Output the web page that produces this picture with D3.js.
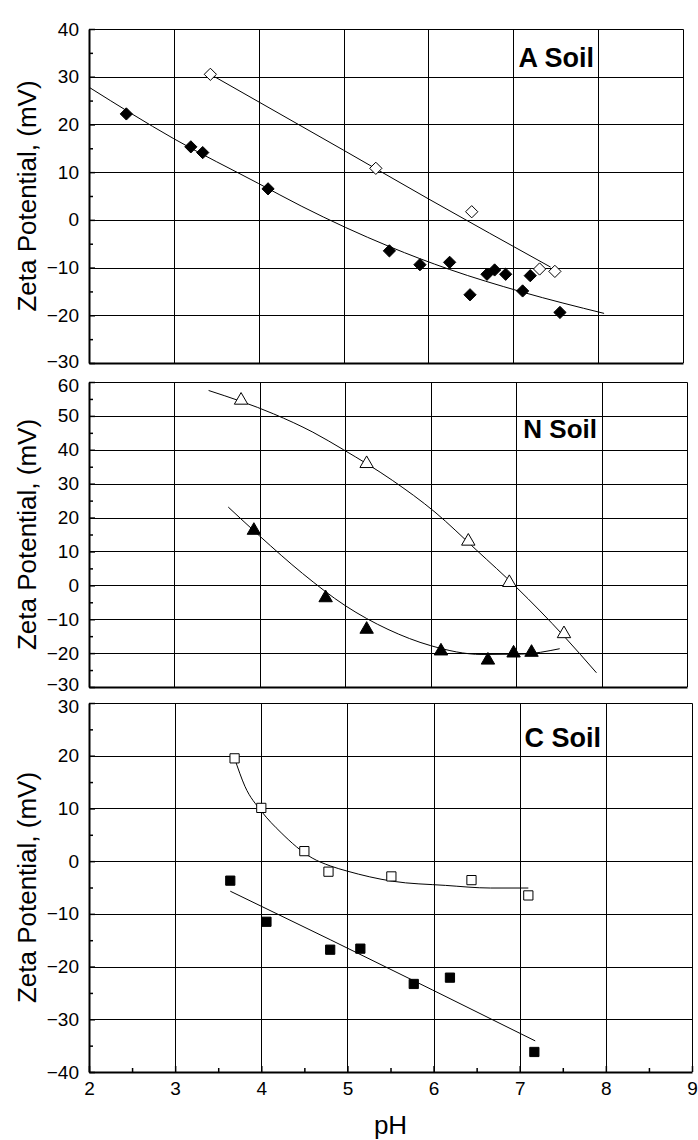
<!DOCTYPE html>
<html><head><meta charset="utf-8">
<script src="https://cdn.jsdelivr.net/npm/d3@7"></script>
<style>body{margin:0;background:#fff}svg{display:block}</style>
</head><body>
<svg id="c" width="698" height="1140"></svg>
<script>
// ---------- data ----------
const phTicks = [2, 3, 4, 5, 6, 7, 8, 9];
const phMinor = [2.5, 3.5, 4.5, 5.5, 6.5, 7.5, 8.5];

// A Soil
const aTicks = [-30, -20, -10, 0, 10, 20, 30, 40];
const aFilledPH   = [2.44, 3.20, 3.34, 4.11, 5.54, 5.90, 6.25, 6.49, 6.69, 6.78, 6.91, 7.11, 7.20, 7.55];
const aFilledZeta = [22.2, 15.3, 14.1, 6.5, -6.5, -9.4, -8.9, -15.7, -11.4, -10.5, -11.4, -14.9, -11.7, -19.4];
const aOpenPH     = [3.43, 5.38, 6.51, 7.31, 7.49];
const aOpenZeta   = [30.5, 10.8, 1.7, -10.3, -10.8];
const aFitFilledPH   = [2.0, 3.0, 4.0, 4.5, 5.54, 6.25, 7.1, 8.07];
const aFitFilledZeta = [27.8, 17.0, 7.6, 2.9, -5.6, -10.4, -15.1, -19.6];
const aFitOpenPH   = [3.43, 5.0, 6.0, 7.44];
const aFitOpenZeta = [30.5, 14.6, 4.4, -9.9];

// N Soil
const nTicks = [-30, -20, -10, 0, 10, 20, 30, 40, 50, 60];
const nOpenPH     = [3.78, 5.25, 6.44, 6.92, 7.56];
const nOpenZeta   = [54.6, 35.9, 13.0, 0.8, -14.3];
const nFilledPH   = [3.93, 4.77, 5.25, 6.12, 6.67, 6.97, 7.18];
const nFilledZeta = [16.2, -3.7, -13.0, -19.4, -22.1, -20.0, -19.8];
const nFitOpenPH   = [3.40, 4.16, 4.62, 4.98, 5.55, 6.05, 6.54, 7.00, 7.56, 7.94];
const nFitOpenZeta = [57.5, 50.6, 45.2, 40.0, 31.0, 21.6, 10.3, -0.5, -15.0, -25.8];
const nFitFilledPH   = [3.63, 4.0, 4.5, 5.0, 5.5, 6.0, 6.6, 7.06, 7.51];
const nFitFilledZeta = [23.1, 14.5, 3.5, -6.0, -13.0, -17.8, -20.4, -20.3, -18.7];

// C Soil
const cTicks = [-40, -30, -20, -10, 0, 10, 20, 30];
const cOpenPH     = [3.69, 4.00, 4.50, 4.78, 5.51, 6.44, 7.10];
const cOpenZeta   = [19.5, 10.1, 1.9, -2.0, -2.9, -3.6, -6.5];
const cFilledPH   = [3.64, 4.06, 4.80, 5.15, 5.77, 6.19, 7.17];
const cFilledZeta = [-3.7, -11.5, -16.8, -16.6, -23.3, -22.1, -36.2];
const cFitOpenPH   = [3.69, 3.81, 4.00, 4.23, 4.59, 4.80, 5.00, 5.52, 6.14, 6.66, 7.10];
const cFitOpenZeta = [19.5, 14.2, 9.5, 5.4, 0.6, -0.9, -1.9, -3.8, -4.6, -5.1, -5.1];
const cFitFilledPH   = [3.64, 4.80, 7.18];
const cFitFilledZeta = [-5.7, -14.9, -34.1];

// ---------- drawing ----------
const svg = d3.select('#c');
const FONT = '"Liberation Sans", Arial, sans-serif';

const zip = (xs, ys) => xs.map((v, i) => [v, ys[i]]);

const diamond = { draw(ctx, size) { const r = Math.sqrt(size) / 2; ctx.moveTo(0, -r); ctx.lineTo(r, 0); ctx.lineTo(0, r); ctx.lineTo(-r, 0); ctx.closePath(); } };

function panel(cfg) {
  const x = d3.scaleLinear().domain([2, 9]).range([cfg.left, cfg.right]);
  const y = d3.scaleLinear().domain([cfg.yTicks[0], cfg.yTicks[cfg.yTicks.length - 1]]).range([cfg.bottom, cfg.top]);
  const g = svg.append('g');

  // gridlines
  g.append('g').selectAll('line').data(phTicks.slice(1, -1)).join('line')
    .attr('x1', d => Math.round(x(d)) + 0.5).attr('x2', d => Math.round(x(d)) + 0.5)
    .attr('y1', cfg.top).attr('y2', cfg.bottom)
    .attr('stroke', '#000').attr('stroke-width', 1);
  g.append('g').selectAll('line').data(cfg.yTicks.slice(1, -1)).join('line')
    .attr('y1', d => Math.round(y(d)) + 0.5).attr('y2', d => Math.round(y(d)) + 0.5)
    .attr('x1', cfg.left).attr('x2', cfg.right)
    .attr('stroke', '#000').attr('stroke-width', 1);

  // top & right border (thin)
  g.append('path')
    .attr('d', `M${cfg.left},${cfg.top + 0.5}H${cfg.right + 0.5}V${cfg.bottom}`)
    .attr('fill', 'none').attr('stroke', '#000').attr('stroke-width', 1);

  // fit curves
  const line = d3.line().x(d => x(d[0])).y(d => y(d[1])).curve(d3.curveMonotoneX);
  cfg.fits.forEach(f => {
    g.append('path').attr('d', line(zip(f[0], f[1])))
      .attr('fill', 'none').attr('stroke', '#000').attr('stroke-width', 1);
  });

  // markers
  cfg.series.forEach(s => {
    const sym = d3.symbol().type(s.type).size(s.size);
    g.append('g').selectAll('path').data(zip(s.xs, s.ys)).join('path')
      .attr('transform', d => `translate(${x(d[0])},${y(d[1])})`)
      .attr('d', sym)
      .attr('fill', s.filled ? '#000' : '#fff')
      .attr('stroke', '#000').attr('stroke-width', 1);
  });

  // left axis (thick) with labels
  const ax = g.append('g').attr('transform', `translate(${cfg.left},0)`)
    .call(d3.axisLeft(y).tickValues(cfg.yTicks).tickSizeInner(-6).tickSizeOuter(0).tickPadding(10));
  ax.select('.domain').attr('stroke-width', 2);
  ax.selectAll('.tick line').attr('stroke-width', 1.5);
  ax.selectAll('text').attr('font-family', FONT).attr('font-size', 19).attr('fill', '#000')
    .attr('transform', d => d === cfg.yTicks[0] ? `translate(0,${-cfg.shiftLow})` :
      (d === cfg.yTicks[cfg.yTicks.length - 1] ? `translate(0,${cfg.shiftHigh})` : null));
  const minor = cfg.yTicks.slice(0, -1).map(v => v + 5);
  const mx = g.append('g').attr('transform', `translate(${cfg.left},0)`)
    .call(d3.axisLeft(y).tickValues(minor).tickSize(-4).tickFormat(''));
  mx.select('.domain').remove();
  mx.selectAll('.tick line').attr('stroke-width', 1.5);

  // bottom axis (thick)
  const bx = g.append('g').attr('transform', `translate(0,${cfg.bottom})`)
    .call(d3.axisBottom(x).tickValues(phTicks).tickSizeInner(cfg.xLabels ? -6 : 0).tickSizeOuter(0).tickPadding(10)
      .tickFormat(cfg.xLabels ? d3.format('d') : ''));
  bx.select('.domain').attr('stroke-width', 2);
  bx.selectAll('.tick line').attr('stroke-width', 1.5);
  bx.selectAll('text').attr('font-family', FONT).attr('font-size', 19).attr('fill', '#000');
  if (cfg.xLabels) {
    const bm = g.append('g').attr('transform', `translate(0,${cfg.bottom})`)
      .call(d3.axisBottom(x).tickValues(phMinor).tickSize(-4).tickFormat(''));
    bm.select('.domain').remove();
    bm.selectAll('.tick line').attr('stroke-width', 1.5);
  }

  // y title
  g.append('text')
    .attr('transform', `translate(35.5,${(cfg.top + cfg.bottom) / 2}) rotate(-90)`)
    .attr('text-anchor', 'middle').attr('font-family', FONT).attr('font-size', 26)
    .text('Zeta Potential, (mV)');

  // panel label
  g.append('text').attr('x', cfg.labelX).attr('y', cfg.labelY)
    .attr('text-anchor', 'end').attr('font-family', FONT).attr('font-size', cfg.labelSize)
    .attr('font-weight', 'bold').text(cfg.label);
}

panel({
  left: 89, right: 683, top: 29, bottom: 363, yTicks: aTicks, xLabels: false,
  shiftLow: 1.5, shiftHigh: 0,
  label: 'A Soil', labelX: 594, labelY: 66.5, labelSize: 27,
  fits: [[aFitFilledPH, aFitFilledZeta], [aFitOpenPH, aFitOpenZeta]],
  series: [
    { xs: aFilledPH, ys: aFilledZeta, type: diamond, size: 150, filled: true },
    { xs: aOpenPH, ys: aOpenZeta, type: diamond, size: 150, filled: false }
  ]
});

panel({
  left: 89, right: 687, top: 382, bottom: 687, yTicks: nTicks, xLabels: false,
  shiftLow: 3, shiftHigh: 3,
  label: 'N Soil', labelX: 597, labelY: 437.5, labelSize: 26,
  fits: [[nFitOpenPH, nFitOpenZeta], [nFitFilledPH, nFitFilledZeta]],
  series: [
    { xs: nOpenPH, ys: nOpenZeta, type: d3.symbolTriangle, size: 78, filled: false },
    { xs: nFilledPH, ys: nFilledZeta, type: d3.symbolTriangle, size: 78, filled: true }
  ]
});

panel({
  left: 89, right: 692, top: 703, bottom: 1072, yTicks: cTicks, xLabels: true,
  shiftLow: 0, shiftHigh: 3,
  label: 'C Soil', labelX: 601, labelY: 746.5, labelSize: 27,
  fits: [[cFitOpenPH, cFitOpenZeta], [cFitFilledPH, cFitFilledZeta]],
  series: [
    { xs: cOpenPH, ys: cOpenZeta, type: d3.symbolSquare, size: 85, filled: false },
    { xs: cFilledPH, ys: cFilledZeta, type: d3.symbolSquare, size: 85, filled: true }
  ]
});

svg.append('text').attr('x', 390.5).attr('y', 1134)
  .attr('text-anchor', 'middle').attr('font-family', FONT).attr('font-size', 26).text('pH');
</script>
</body></html>
